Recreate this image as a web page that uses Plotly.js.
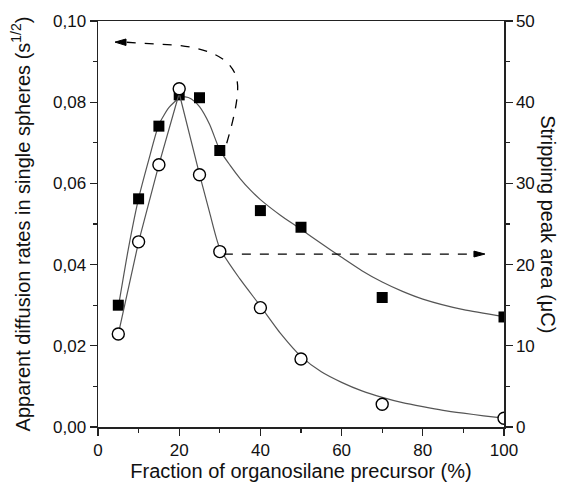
<!DOCTYPE html>
<html>
<head>
<meta charset="utf-8">
<script src="https://cdn.plot.ly/plotly-3.0.1.min.js"></script>
<style>html,body{margin:0;padding:0;background:#fff;}#chart{width:571px;height:489px;}</style>
</head>
<body>
<div id="chart"></div>
<script>
// Measured points
const fraction = [5, 10, 15, 20, 25, 30, 40, 50, 70, 100];
const diffusionRate = [0.0300, 0.0562, 0.0741, 0.0818, 0.0811, 0.0681, 0.0533, 0.0492, 0.0319, 0.0271];
const strippingArea = [11.45, 22.8, 32.3, 41.66, 31.07, 21.6, 14.7, 8.37, 2.8, 1.07];

// Fitted curves
const rateFitX = [5, 7.5, 10, 12.5, 15, 17.5, 20, 21.5, 23, 25, 27.5, 30, 32.5, 35, 37.5, 40, 45, 50, 55, 60, 65, 70, 75, 80, 90, 100];
const rateFitY = [0.0295, 0.0440, 0.0563, 0.0658, 0.0745, 0.0787, 0.0810, 0.0813, 0.0808, 0.0789, 0.0745, 0.0682, 0.0645, 0.0612, 0.0584, 0.0560, 0.0521, 0.0487, 0.0452, 0.0418, 0.0385, 0.0357, 0.0334, 0.0315, 0.0289, 0.0272];
const areaFitRiseX = [5, 10, 15, 20, 25];
const areaFitRiseY = [11.45, 22.8, 32.3, 41.1, 31.1];
const areaFitDecayX = [25, 27.5, 30, 35, 40, 45, 50, 55, 60, 65, 70, 75, 80, 85, 90, 95, 100];
const areaFitDecayY = [31.1, 26.4, 22.0, 18.2, 14.9, 11.5, 8.7, 6.8, 5.5, 4.45, 3.65, 3.0, 2.5, 2.05, 1.7, 1.38, 1.1];

const xTitle = 'Fraction of organosilane precursor (%)';
const yTitle = 'Apparent diffusion rates in single spheres (s<sup>1/2</sup>)';
const y2Title = 'Stripping peak area (\u03bcC)';

const lineCol = '#555';
const axisCol = '#222';
const fontFam = 'Liberation Sans, Arial, sans-serif';

const traces = [
  {x: rateFitX, y: rateFitY, mode: 'lines', line: {color: lineCol, width: 1.2, shape: 'spline', smoothing: 0.6}, yaxis: 'y', hoverinfo: 'skip'},
  {x: areaFitRiseX, y: areaFitRiseY, mode: 'lines', line: {color: lineCol, width: 1.2}, yaxis: 'y2', hoverinfo: 'skip'},
  {x: areaFitDecayX, y: areaFitDecayY, mode: 'lines', line: {color: lineCol, width: 1.2, shape: 'spline', smoothing: 0.6}, yaxis: 'y2', hoverinfo: 'skip'},
  {x: fraction, y: diffusionRate, mode: 'markers', marker: {symbol: 'square', size: 11, color: '#000', line: {width: 0}}, yaxis: 'y'},
  {x: fraction, y: strippingArea, mode: 'markers', marker: {symbol: 'circle', size: 12, color: '#fff', line: {color: '#000', width: 1.4}}, yaxis: 'y2'}
];

const layout = {
  width: 571, height: 489,
  margin: {l: 98, r: 67, t: 21, b: 62},
  paper_bgcolor: '#fff', plot_bgcolor: '#fff',
  showlegend: false,
  separators: ',.',
  font: {family: fontFam, size: 17, color: '#111'},
  xaxis: {
    range: [0, 100], dtick: 20, tick0: 0,
    showgrid: false, zeroline: false,
    showline: true, linecolor: axisCol, linewidth: 1.5, mirror: true,
    ticks: 'outside', ticklen: 7, tickwidth: 1.2, tickcolor: axisCol,
    minor: {dtick: 10, ticks: 'outside', ticklen: 4, tickwidth: 1.2, tickcolor: axisCol, showgrid: false},
    tickfont: {size: 17},
    title: {text: xTitle, font: {size: 20}, standoff: 2}
  },
  yaxis: {
    range: [0, 0.1], dtick: 0.02, tick0: 0, tickformat: '.2f',
    showgrid: false, zeroline: false,
    showline: true, linecolor: axisCol, linewidth: 1.5,
    ticks: 'outside', ticklen: 7, tickwidth: 1.2, tickcolor: axisCol,
    minor: {dtick: 0.01, ticks: 'outside', ticklen: 4, tickwidth: 1.2, tickcolor: axisCol, showgrid: false},
    tickfont: {size: 17},
    title: {text: yTitle, font: {size: 20}, standoff: 17}
  },
  yaxis2: {
    range: [0, 50], dtick: 10, tick0: 0,
    overlaying: 'y', side: 'right',
    showgrid: false, zeroline: false,
    showline: true, linecolor: axisCol, linewidth: 1.5,
    ticks: 'outside', ticklen: 7, tickwidth: 1.2, tickcolor: axisCol,
    minor: {dtick: 5, ticks: 'outside', ticklen: 4, tickwidth: 1.2, tickcolor: axisCol, showgrid: false},
    tickfont: {size: 17}
  },
  shapes: [
    {type: 'path', xref: 'x', yref: 'y',
     path: 'M 31.7,0.0699 C 33.5,0.0760 34.8,0.0820 34.3,0.0850 C 33.5,0.0905 28,0.0930 20,0.0940 L 6.5,0.0948',
     line: {color: '#000', width: 1.3, dash: 'dash'}},
    {type: 'path', xref: 'x', yref: 'y',
     path: 'M 4.19,0.0948 L 6.9,0.09557 L 6.9,0.09397 Z',
     fillcolor: '#000', line: {color: '#000', width: 1}},
    {type: 'line', xref: 'x', yref: 'y2', x0: 31, y0: 21.3, x1: 93.5, y1: 21.3,
     line: {color: '#000', width: 1.3, dash: 'dash'}},
    {type: 'path', xref: 'x', yref: 'y2',
     path: 'M 95.3,21.3 L 92.6,21.66 L 92.6,20.94 Z',
     fillcolor: '#000', line: {color: '#000', width: 1}}
  ],
  annotations: [
    {xref: 'paper', yref: 'paper', x: 1.108, y: 0.5, xanchor: 'center', yanchor: 'middle',
     text: y2Title, textangle: 90, showarrow: false, font: {size: 20, family: fontFam, color: '#111'}}
  ]
};

Plotly.newPlot('chart', traces, layout, {displayModeBar: false, staticPlot: true});
</script>
</body>
</html>
